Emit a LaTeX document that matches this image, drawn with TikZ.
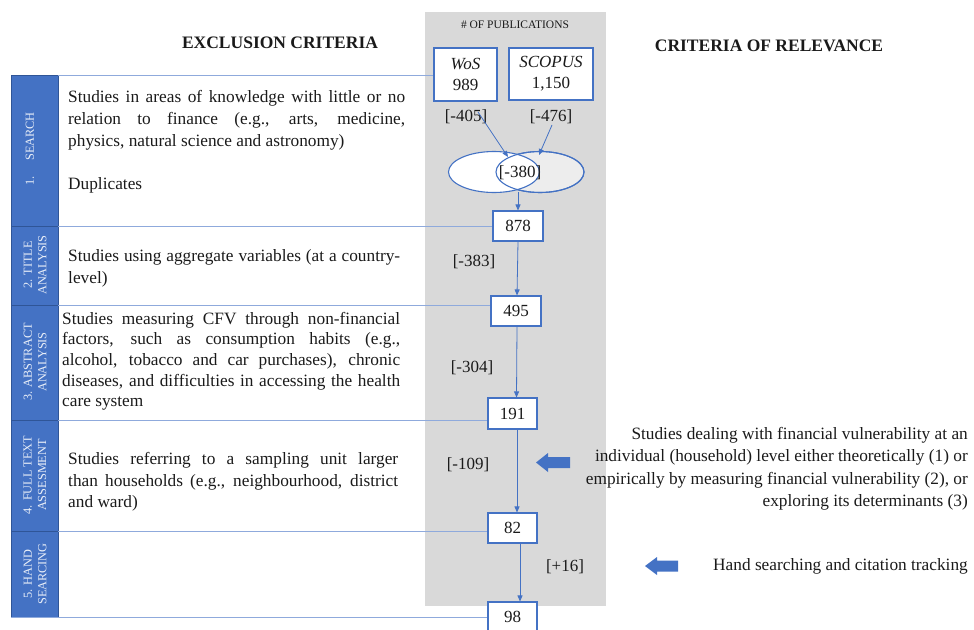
\documentclass[tikz,border=0pt]{standalone}
\usepackage{fontspec}
\setmainfont{Liberation Serif}
\usetikzlibrary{arrows.meta,shapes.geometric,calc}
\definecolor{tabblue}{HTML}{4472C4}
\definecolor{tabdark}{HTML}{2F5597}
\definecolor{linkblue}{HTML}{8FAADC}
\definecolor{boxblue}{HTML}{4472C4}
\definecolor{pubgray}{HTML}{D9D9D9}
\definecolor{ellgray}{HTML}{EDEDED}
\definecolor{tabtext}{HTML}{E8EEF8}
\definecolor{txt}{HTML}{1A1A1A}
\begin{document}
\begin{tikzpicture}[x=1pt,y=-1pt,
  every node/.style={text=txt},
  numbox/.style={draw=boxblue,line width=1.1pt,fill=white,minimum width=50pt,minimum height=30pt,inner sep=0pt,font=\fontsize{17}{20}\selectfont},
  srcbox/.style={draw=boxblue,line width=1.1pt,fill=white,inner sep=0pt,align=center,font=\fontsize{17}{21}\selectfont},
  body/.style={inner sep=0pt,anchor=north west,align=justify,font=\fontsize{17.3}{22}\selectfont},
  tab/.style={fill=tabblue,draw=tabdark,line width=0.6pt},
  tablabel/.style={rotate=90,text=tabtext,align=center,font=\fontsize{12.3}{14.5}\selectfont},
  sepline/.style={draw=linkblue,line width=0.9pt},
  flow/.style={draw=boxblue,line width=0.8pt,-{Triangle[length=6pt,width=5pt]}},
  lab/.style={font=\fontsize{17}{20}\selectfont,inner sep=0pt},
  head/.style={font=\fontsize{17.5}{20}\selectfont\bfseries,inner sep=0pt},
  fatarrow/.style={fill=tabblue,draw=none},
  ell/.style={ellipse,draw=boxblue,line width=1.1pt,inner sep=0pt,minimum height=41pt},
]
\useasboundingbox (0,0) rectangle (974,629);
% publications column
\fill[pubgray] (425,12) rectangle (606,606);
\node[font=\fontsize{11.5}{13}\selectfont,inner sep=0pt] (pubhead) at (515,25) {\# OF PUBLICATIONS};

% headers
\node[head] (exhead) at (280,43) {EXCLUSION CRITERIA};
\node[head] (rlhead) at (769,46) {CRITERIA OF RELEVANCE};

% tabs
\draw[tab] (11,75) rectangle (58,226);
\draw[tab] (11,226) rectangle (58,305);
\draw[tab] (11,305) rectangle (58,420);
\draw[tab] (11,420) rectangle (58,531);
\draw[tab] (11,531) rectangle (58,617);
\node[tablabel] (tab1) at (30,149) {1.\hspace{1.3em}SEARCH};
\node[tablabel] (tab2) at (35,265) {2. TITLE\\ANALYSIS};
\node[tablabel] (tab3) at (35,362) {3. ABSTRACT\\ANALYSIS};
\node[tablabel] (tab4) at (35,475) {4. FULL TEXT\\ASSESMENT};
\node[tablabel] (tab5) at (35,574) {5. HAND\\SEARCING};

% source boxes
\node[srcbox,minimum width=63pt,minimum height=53pt] (wos) at (465.5,74.5) {\textit{WoS}\\989};
\node[srcbox,minimum width=84pt,minimum height=52pt] (scopus) at (551,74) {\textit{SCOPUS}\\1,150};

% number boxes
\node[numbox] (n878) at (518,226) {878};
\node[numbox] (n495) at (516,311) {495};
\node[numbox,minimum width=49pt,minimum height=31pt] (n191) at (512.5,413.5) {191};
\node[numbox,minimum width=49pt] (n82) at (512.5,528) {82};
\node[numbox,minimum width=49pt] (n98) at (512.5,617) {98};

% separator lines
\coordinate (s0) at (58,75);
\coordinate (s1) at (58,226);
\coordinate (s2) at (58,305);
\coordinate (s3) at (58,420);
\coordinate (s4) at (58,531);
\coordinate (s5) at (11,617);
\draw[sepline] (s0) -- (s0 -| wos.west);
\draw[sepline] (s1) -- (s1 -| n878.west);
\draw[sepline] (s2) -- (s2 -| n495.west);
\draw[sepline] (s3) -- (s3 -| n191.west);
\draw[sepline] (s4) -- (s4 -| n82.west);
\draw[sepline] (s5) -- (s5 -| n98.west);

% ellipses
\node[ell,fill=ellgray,minimum width=88pt] (ellR) at (540,172) {};
\node[ell,fill=white,minimum width=91pt] (ellL) at (494,172) {};
\node[ell,minimum width=88pt] at (ellR) {};
\node[lab] (l380) at (520,173) {[-380]};

% labels
\node[lab] (l405) at (466,117) {[-405]};
\node[lab] (l476) at (551,117) {[-476]};
\node[lab] (l383) at (474,262) {[-383]};
\node[lab] (l304) at (472,368) {[-304]};
\node[lab] (l109) at (468,465) {[-109]};
\node[lab] (l16) at (565,567) {[+16]};

% flow arrows
\coordinate (a1s) at (478,112);
\coordinate (a1e) at (508,157);
\coordinate (a2s) at (552,125);
\coordinate (a2e) at (539,155);
\coordinate (ellb) at (518,192);
\draw[flow] (a1s) -- (a1e);
\draw[flow] (a2s) -- (a2e);
\draw[flow] (ellb) -- (n878.north);
\draw[flow] (n878.south) -- ([xshift=1pt]n495.north);
\draw[flow] ([xshift=1pt]n495.south) -- ([xshift=4pt]n191.north);
\draw[flow] ([xshift=4.5pt]n191.south) -- ([xshift=4.5pt]n82.north);
\draw[flow] ([xshift=7.5pt]n82.south) -- ([xshift=7.5pt]n98.north);

% exclusion texts
\node[body,text width=337pt] (tsearch) at (68,90) {Studies in areas of knowledge with little or no\linebreak relation to finance (e.g., arts, medicine,\linebreak physics, natural science and astronomy)};
\node[body] (tdup) at (68,177) {Duplicates};
\node[body,text width=332pt] (ttitle) at (68,249) {Studies using aggregate variables (at a country-\linebreak level)};
\node[body,text width=338pt,font=\fontsize{17.3}{20.6}\selectfont] (tabs) at (62,312) {Studies measuring CFV through non-financial\linebreak factors, such as consumption habits (e.g.,\linebreak alcohol, tobacco and car purchases), chronic\linebreak diseases, and difficulties in accessing the health\linebreak care system};
\node[body,text width=330pt,font=\fontsize{17.3}{21.7}\selectfont] (tfull) at (68,452) {Studies referring to a sampling unit larger\linebreak than households (e.g., neighbourhood, district\linebreak and ward)};

% relevance texts
\node[inner sep=0pt,anchor=north east,align=right,font=\fontsize{17.3}{22.4}\selectfont] (rfull) at (968,427) {Studies dealing with financial vulnerability at an\\individual (household) level either theoretically (1) or\\empirically by measuring financial vulnerability (2), or\\exploring its determinants (3)};
\node[inner sep=0pt,anchor=base east,font=\fontsize{17.3}{22}\selectfont] (rhand) at (968,570) {Hand searching and citation tracking};

% fat arrows
\fill[fatarrow] (536,462.5) -- (548,453) -- (548,457) -- (570,457) -- (570,468) -- (548,468) -- (548,472) -- cycle;
\fill[fatarrow] (645,566) -- (657,557) -- (657,560.5) -- (678,560.5) -- (678,571.5) -- (657,571.5) -- (657,575) -- cycle;
\end{tikzpicture}
\end{document}
